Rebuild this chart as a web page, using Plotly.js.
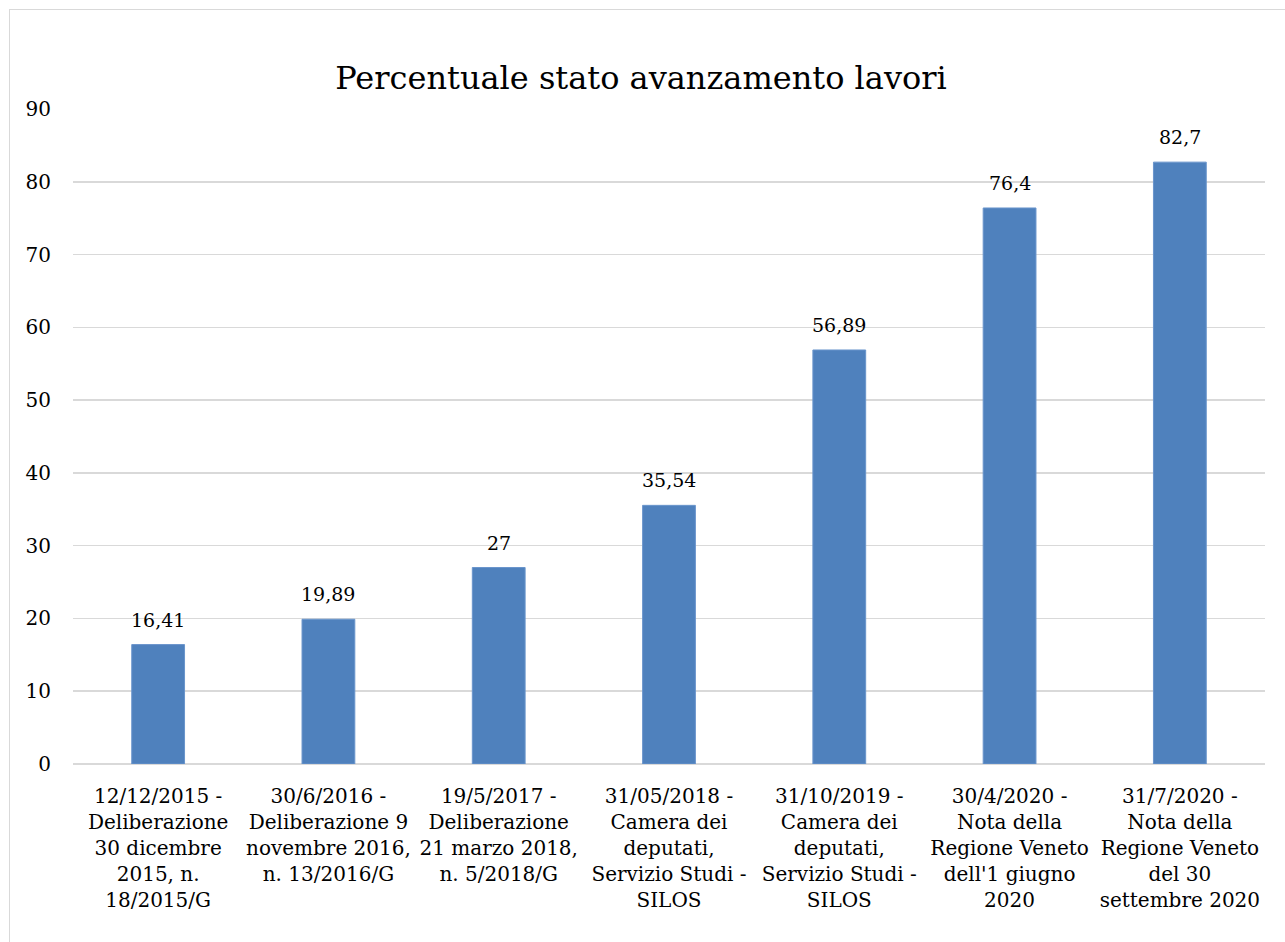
<!DOCTYPE html>
<html>
<head>
<meta charset="utf-8">
<script src="https://cdn.plot.ly/plotly-3.0.1.min.js"></script>
<style>
  html, body { margin: 0; padding: 0; background: #ffffff; }
  #wrap { position: relative; width: 1285px; height: 942px; overflow: hidden; }
  #chart { position: absolute; left: 0; top: 0; width: 1285px; height: 942px; }
  #frame { position: absolute; left: 9px; top: 9px; width: 1400px; height: 1100px;
           border: 1.5px solid #d9d9d9; pointer-events: none; }
</style>
</head>
<body>
<div id="wrap">
  <div id="chart"></div>
  <div id="frame"></div>
</div>
<script>
const categories = [
  "12/12/2015 -<br>Deliberazione<br>30 dicembre<br>2015, n.<br>18/2015/G",
  "30/6/2016 -<br>Deliberazione 9<br>novembre 2016,<br>n. 13/2016/G",
  "19/5/2017 -<br>Deliberazione<br>21 marzo 2018,<br>n. 5/2018/G",
  "31/05/2018 -<br>Camera dei<br>deputati,<br>Servizio Studi -<br>SILOS",
  "31/10/2019 -<br>Camera dei<br>deputati,<br>Servizio Studi -<br>SILOS",
  "30/4/2020 -<br>Nota della<br>Regione Veneto<br>dell'1 giugno<br>2020",
  "31/7/2020 -<br>Nota della<br>Regione Veneto<br>del 30<br>settembre 2020"
];
const values = [16.41, 19.89, 27, 35.54, 56.89, 76.4, 82.7];
const valueLabels = values.map(v => String(v).replace('.', ','));
const yTicks = [0, 10, 20, 30, 40, 50, 60, 70, 80, 90];

const FONT = "'DejaVu Serif', 'Liberation Serif', serif";

const trace = {
  type: 'bar',
  x: categories,
  y: values,
  marker: { color: '#4f81bd', line: { color: '#6a95cc', width: 1 } },
  hoverinfo: 'none'
};

const annotations = categories.map((c, i) => ({
  x: c,
  y: values[i],
  xref: 'x',
  yref: 'y',
  text: valueLabels[i],
  showarrow: false,
  xanchor: 'center',
  yanchor: 'bottom',
  yshift: 12,
  font: { family: FONT, size: 19, color: '#000000' }
}));

const layout = {
  width: 1285,
  height: 942,
  margin: { l: 73, r: 20, t: 109, b: 178 },
  paper_bgcolor: '#ffffff',
  plot_bgcolor: '#ffffff',
  bargap: 0.69,
  showlegend: false,
  font: { family: FONT, color: '#000000', size: 20 },
  title: {
    text: 'Percentuale stato avanzamento lavori',
    font: { family: FONT, size: 32, color: '#000000' },
    x: 641 / 1285, xref: 'container', xanchor: 'center',
    y: 1 - 78 / 942, yref: 'container', yanchor: 'middle'
  },
  annotations: annotations,
  xaxis: {
    type: 'category',
    tickfont: { family: FONT, size: 20, color: '#000000' },
    ticks: '',
    ticklabelstandoff: 18,
    showgrid: false,
    showline: false,
    zeroline: false,
    tickangle: 0,
    automargin: false
  },
  yaxis: {
    range: [0, 90],
    tickmode: 'array',
    tickvals: yTicks,
    ticktext: yTicks.map(String),
    tickfont: { family: FONT, size: 20, color: '#000000' },
    ticks: '',
    ticklabelstandoff: 21,
    showgrid: true,
    gridcolor: '#d9d9d9',
    gridwidth: 1.5,
    zeroline: true,
    zerolinecolor: '#d9d9d9',
    zerolinewidth: 2,
    showline: false,
    automargin: false
  }
};

Plotly.newPlot('chart', [trace], layout, { staticPlot: true, displayModeBar: false });
</script>
</body>
</html>
